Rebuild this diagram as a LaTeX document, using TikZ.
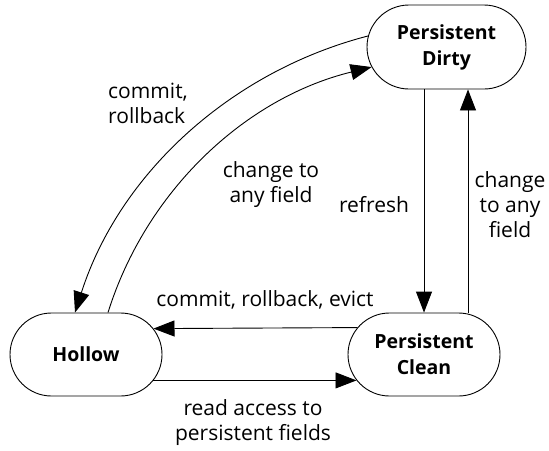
\documentclass[tikz,border=0pt]{standalone}
\usepackage{fontspec}
\setmainfont{Open Sans}
\usetikzlibrary{shapes.misc,arrows.meta,calc}
\begin{document}
\begin{tikzpicture}[x=1pt,y=-1pt,
  state/.style={rounded rectangle, draw, line width=0.9pt, fill=white, minimum height=83pt, minimum width=152pt, inner sep=0pt, align=center, font=\fontsize{19.5}{26}\selectfont\bfseries},
  arr/.style={draw, line width=0.9pt, -{Triangle[length=21pt,width=16pt]}},
  lbl/.style={inner sep=0pt, align=center, font=\fontsize{21}{25}\selectfont}]
\useasboundingbox (0,0) rectangle (549,450);
\node[state, minimum width=159pt, minimum height=84pt] (dirty) at (446.5,47) {Persistent\\Dirty};
\node[state] (hollow) at (86,354.5) {Hollow};
\node[state] (clean) at (424,354.5) {Persistent\\Clean};
% horizontal
\draw[arr] (clean.158.2) -- (hollow.21.8);
\draw[arr] (hollow.-21.8) -- (clean.201.8);
% vertical
\draw[arr] (dirty.south -| clean.center) -- (clean.north -| clean.center);
\draw[arr] ([xshift=44pt]clean.north) -- ([xshift=44pt]clean.north |- dirty.south);
% curves
\draw[arr] (dirty.172.8) .. controls (229,72) and (119,175) .. ([xshift=-11pt]hollow.north);
\draw[arr] ([xshift=22pt]hollow.north) .. controls (146,191) and (245,98) .. (dirty.195);
% labels
\node[lbl, anchor=west, align=left] (l1) at (108,103) {commit,\\rollback};
\node[lbl] (l2) at (271,185) {change to\\any field};
\node[lbl] (l3) at (374,205) {refresh};
\node[lbl] (l4) at (510,205) {change\\to any\\field};
\node[lbl] (l5) at (265,300) {commit, rollback, evict};
\node[lbl] (l6) at (253,423) {read access to\\persistent fields};
\end{tikzpicture}
\end{document}
